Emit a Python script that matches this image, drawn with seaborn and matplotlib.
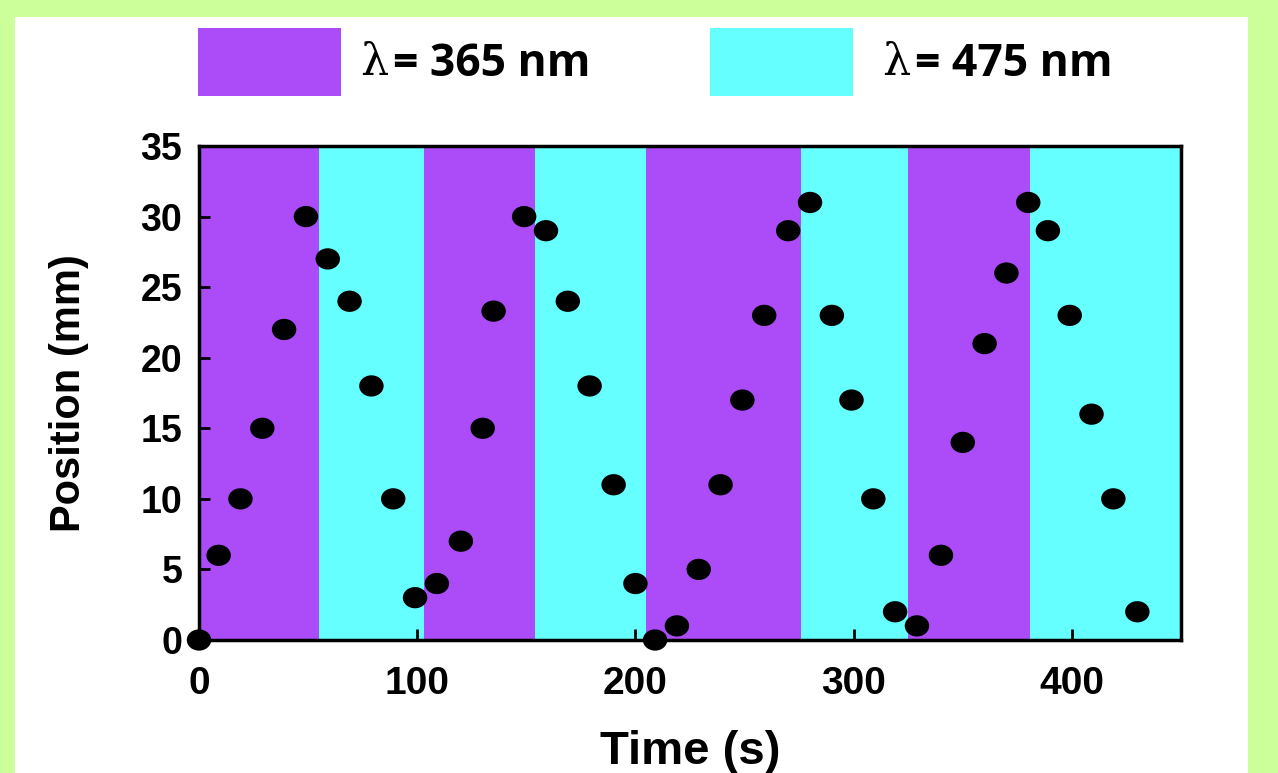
import matplotlib.pyplot as plt
import matplotlib.patches as mpatches
from matplotlib.path import Path
from matplotlib.transforms import Affine2D
import seaborn as sns

# data
time_s = [0, 9, 19, 29, 39, 49, 59, 69, 79, 89, 99,
          109, 120, 130, 135, 149, 159, 169, 179, 190, 200,
          209, 219, 229, 239, 249, 259, 270, 280, 290, 299, 309, 319,
          329, 340, 350, 360, 370, 380, 389, 399, 409, 419, 430]
position_mm = [0, 6, 10, 15, 22, 30, 27, 24, 18, 10, 3,
               4, 7, 15, 23.3, 30, 29, 24, 18, 11, 4,
               0, 1, 5, 11, 17, 23, 29, 31, 23, 17, 10, 2,
               1, 6, 14, 21, 26, 31, 29, 23, 16, 10, 2]

# illumination periods (s) and wavelength of each
band_edges = [0, 55, 103, 154, 205, 276, 325, 381, 450]
band_light = ["365", "475", "365", "475", "365", "475", "365", "475"]

legend_labels = ["365", "475"]
light_colors = {"365": "#ab4cf8", "475": "#66ffff"}

sns.set_style("ticks")
plt.rcParams['font.family'] = ['Liberation Sans', 'DejaVu Sans']
plt.rcParams['font.weight'] = 'bold'
plt.rcParams['text.color'] = 'black'
plt.rcParams['axes.labelcolor'] = 'black'
plt.rcParams['xtick.color'] = 'black'
plt.rcParams['ytick.color'] = 'black'

W, H = 1278, 773
fig = plt.figure(figsize=(W / 100, H / 100), dpi=100, facecolor="#ccff99")

# white panel inside the green frame
fig.patches.append(mpatches.Rectangle((15 / W, 0), (1248 - 15) / W, (H - 17) / H,
                                      transform=fig.transFigure, facecolor="white",
                                      edgecolor="none", zorder=-5))

ax = fig.add_axes([199 / W, 1 - 640 / H, (1181 - 199) / W, 494 / H])

for i in range(len(band_light)):
    ax.axvspan(band_edges[i], band_edges[i + 1], color=light_colors[band_light[i]],
               lw=0, zorder=0)

# slightly wide dots, as in the picture
ellipse = Path.unit_circle().transformed(Affine2D().scale(1.15, 1.0))
sns.scatterplot(x=time_s, y=position_mm, ax=ax, marker=ellipse, s=310,
                color="black", edgecolor="none", clip_on=False, zorder=3)

ax.set_xlim(0, 450)
ax.set_ylim(0, 35)
ax.set_xticks(range(0, 401, 100))
ax.set_yticks(range(0, 36, 5))
ax.tick_params(direction="in", length=8, width=2, labelsize=27, pad=12)
ax.tick_params(axis="x", pad=19, labelsize=28)
for lab in ax.get_xticklabels() + ax.get_yticklabels():
    lab.set_fontweight("bold")
for sp in ax.spines.values():
    sp.set_linewidth(2.5)
    sp.set_color("black")
    sp.set_visible(True)

ax.set_xlabel("Time (s)", fontsize=34, fontweight="bold")
ax.set_ylabel("Position (mm)", fontsize=30, fontweight="bold")
ax.xaxis.set_label_coords(0.5, -0.182)
ax.yaxis.set_label_coords(-0.112, 0.5)

# legend boxes above the plot
box_x = [198, 710]
text_x = [360, 882]
for bx, tx, lab in zip(box_x, text_x, legend_labels):
    fig.patches.append(mpatches.Rectangle((bx / W, 1 - 96 / H), 143 / W, 68 / H,
                                          transform=fig.transFigure,
                                          facecolor=light_colors[lab], edgecolor="none"))
    fig.text(tx / W, 1 - 62 / H, "λ", fontsize=32, family="DejaVu Serif",
             fontweight="normal", va="center", ha="left")
    fig.text((tx + 33) / W, 1 - 64 / H, "= " + lab + " nm", fontsize=32,
             family=["Open Sans", "DejaVu Sans"], fontweight="bold",
             va="center", ha="left")

fig.savefig("out.png", dpi=100, facecolor=fig.get_facecolor())
